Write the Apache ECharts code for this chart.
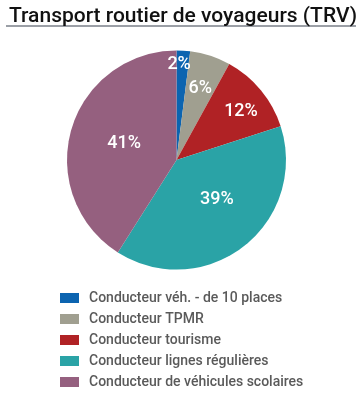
<!DOCTYPE html>
<html>
<head>
<meta charset="utf-8">
<script src="https://cdn.jsdelivr.net/npm/echarts@6/dist/echarts.min.js"></script>
<style>html,body{margin:0;padding:0;background:#fff;}#c{width:362px;height:396px;}</style>
</head>
<body>
<div id="c"></div>
<script>
var titleText = 'Transport routier de voyageurs (TRV)';
var categories = ['Conducteur véh. - de 10 places', 'Conducteur TPMR', 'Conducteur tourisme', 'Conducteur lignes régulières', 'Conducteur de véhicules scolaires'];
var values = [2, 6, 12, 39, 41];
var colors = ['#0c64b0', '#a09f90', '#b02225', '#2aa3a6', '#95607f'];
var labelOffsets = [[-1, -38], [6, -17], [20, -12], [5, -6], [3, 0]];

var chart = echarts.init(document.getElementById('c'), null, {renderer: 'canvas'});
chart.setOption({
  animation: false,
  title: {
    text: titleText, left: 4, top: 1,
    textStyle: {fontFamily: 'Roboto', fontSize: 21, fontWeight: 500, color: '#111'}
  },
  graphic: [{
    type: 'rect', shape: {x: 6, y: 25, width: 350, height: 2}, style: {fill: '#9b9fa6'}
  }],
  legend: {
    orient: 'vertical', left: 60, top: 291, height: 110, padding: 0,
    itemWidth: 19, itemHeight: 10, itemGap: 7, icon: 'rect',
    textStyle: {fontFamily: 'Roboto', fontSize: 14, fontWeight: 500, color: '#5a5a5a', lineHeight: 14, padding: [0, 0, 0, 5]},
    data: categories
  },
  series: [{
    type: 'pie',
    center: [176.5, 160],
    radius: [0, 109.5],
    startAngle: 90,
    clockwise: true,
    avoidLabelOverlap: false,
    label: {
      show: true, position: 'inside',
      formatter: '{c}%',
      fontFamily: 'Roboto', fontSize: 18, fontWeight: 500, color: '#fff'
    },
    labelLine: {show: false},
    emphasis: {disabled: true},
    data: categories.map(function (n, i) {
      return {name: n, value: values[i], itemStyle: {color: colors[i]}, label: {offset: labelOffsets[i]}};
    })
  }]
});
</script>
</body>
</html>
